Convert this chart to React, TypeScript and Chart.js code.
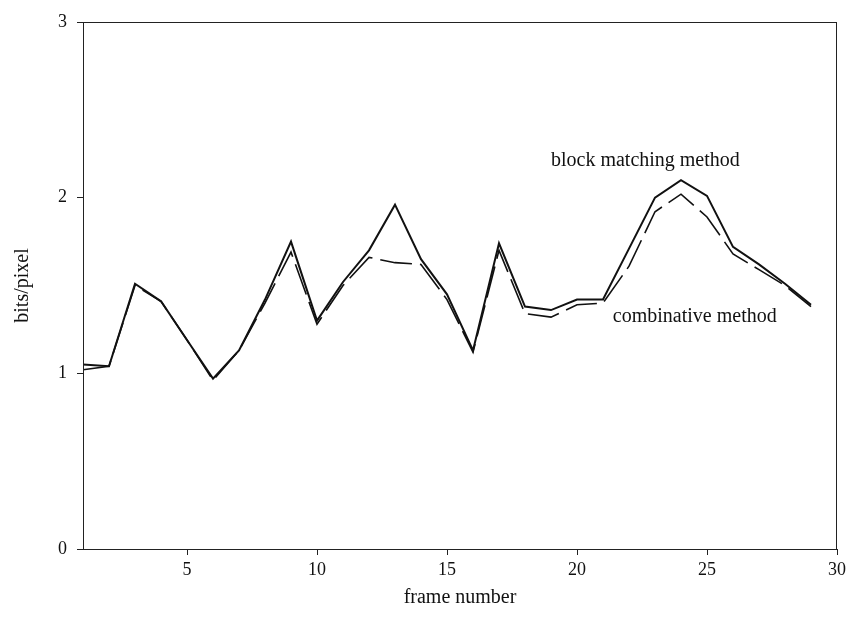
import React, { useEffect, useRef } from "react";
import { Chart, registerables } from "chart.js";

Chart.register(...registerables);

const frames = [1, 2, 3, 4, 5, 6, 7, 8, 9, 10, 11, 12, 13, 14, 15, 16, 17, 18, 19, 20, 21, 22, 23, 24, 25, 26, 27, 28, 29];
const blockMatching = [1.05, 1.04, 1.51, 1.41, 1.19, 0.97, 1.13, 1.42, 1.75, 1.30, 1.52, 1.70, 1.96, 1.65, 1.45, 1.13, 1.74, 1.38, 1.36, 1.42, 1.42, 1.71, 2.00, 2.10, 2.01, 1.72, 1.62, 1.51, 1.39];
const combinative = [1.02, 1.04, 1.50, 1.41, 1.19, 0.96, 1.13, 1.40, 1.69, 1.28, 1.50, 1.66, 1.63, 1.62, 1.42, 1.12, 1.70, 1.34, 1.32, 1.39, 1.40, 1.61, 1.92, 2.02, 1.89, 1.68, 1.59, 1.50, 1.38];
const xTickValues = [5, 10, 15, 20, 25, 30];
const yTickValues = [0, 1, 2, 3];
const seriesNames = ["block matching method", "combinative method"];
const xTitle = "frame number";
const yTitle = "bits/pixel";

// annotation anchors in data units (centre x, baseline y)
const labelAnchorX = [22.63, 24.53];
const labelAnchorY = [2.18, 1.29];

const FONT = "'Liberation Serif', 'Times New Roman', serif";

export default function App() {
  const ref = useRef<HTMLCanvasElement | null>(null);

  useEffect(() => {
    if (!ref.current) return;
    const frameBox = {
      id: "frameBox",
      afterDatasetsDraw(chart: any) {
        const { ctx, chartArea: a, scales } = chart;
        ctx.save();
        ctx.strokeStyle = "#222";
        ctx.lineWidth = 1;
        ctx.strokeRect(a.left + 0.5, a.top + 0.5, a.right - a.left - 1, a.bottom - a.top);
        ctx.fillStyle = "#111";
        ctx.font = `20px ${FONT}`;
        ctx.textAlign = "center";
        ctx.textBaseline = "alphabetic";
        for (let i = 0; i < seriesNames.length; i++) {
          ctx.fillText(seriesNames[i], scales.x.getPixelForValue(labelAnchorX[i]), scales.y.getPixelForValue(labelAnchorY[i]));
        }
        ctx.restore();
      },
    };

    const chart = new Chart(ref.current, {
      type: "line",
      data: {
        datasets: [
          {
            label: seriesNames[0],
            data: frames.map((f, i) => ({ x: f, y: blockMatching[i] })),
            borderColor: "#111",
            borderWidth: 2,
            pointRadius: 0,
            tension: 0,
            fill: false,
          },
          {
            label: seriesNames[1],
            data: frames.map((f, i) => ({ x: f, y: combinative[i] })),
            borderColor: "#111",
            borderWidth: 1.6,
            borderDash: [32, 8],
            pointRadius: 0,
            tension: 0,
            fill: false,
          },
        ],
      },
      options: {
        responsive: false,
        animation: false,
        layout: { padding: { top: 22, right: 12, left: 0, bottom: 0 } },
        plugins: { legend: { display: false }, tooltip: { enabled: false } },
        scales: {
          x: {
            type: "linear",
            min: 1,
            max: 30,
            afterFit: (s: any) => { s.height = 76; },
            afterBuildTicks: (s: any) => { s.ticks = xTickValues.map((v) => ({ value: v })); },
            grid: { drawOnChartArea: false, drawTicks: true, tickLength: 6, color: "#222" },
            border: { display: true, color: "#222", width: 1 },
            ticks: { color: "#111", font: { family: FONT, size: 18 }, padding: 4, maxRotation: 0 },
            title: { display: true, text: xTitle, color: "#111", font: { family: FONT, size: 20 }, padding: { bottom: 15 } },
          },
          y: {
            type: "linear",
            min: 0,
            max: 3,
            afterFit: (s: any) => { s.width = 83; },
            afterBuildTicks: (s: any) => { s.ticks = yTickValues.map((v) => ({ value: v })); },
            grid: { drawOnChartArea: false, drawTicks: true, tickLength: 6, color: "#222" },
            border: { display: true, color: "#222", width: 1 },
            ticks: { color: "#111", font: { family: FONT, size: 18 }, padding: 10 },
            title: { display: true, text: yTitle, color: "#111", font: { family: FONT, size: 20 }, padding: { top: 11 } },
          },
        },
      },
      plugins: [frameBox],
    } as any);
    return () => chart.destroy();
  }, []);

  return (
    <div style={{ position: "absolute", left: 0, top: 0, width: 850, height: 625, background: "#fff" }}>
      <canvas ref={ref} width={850} height={625} />
    </div>
  );
}
